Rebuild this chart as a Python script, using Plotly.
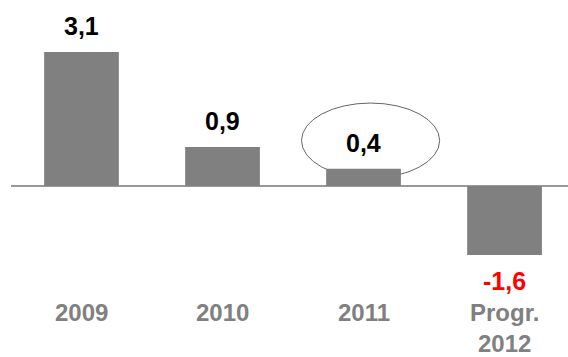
import plotly.graph_objects as go

# Annual change, last one is a projection
categories = ["2009", "2010", "2011", "Progr.<br>2012"]
values = [3.1, 0.9, 0.4, -1.6]
value_labels = ["3,1", "0,9", "0,4", "-1,6"]
label_colors = ["#000000", "#000000", "#000000", "#ff0000"]

FONT = "Liberation Sans, Arial, sans-serif"
BAR = "#808080"

fig = go.Figure(
    go.Bar(
        x=list(range(len(categories))),
        y=values,
        marker=dict(color=BAR, line=dict(width=0)),
        width=0.53,
        hoverinfo="skip",
    )
)

# Value labels above positive bars, below negative ones
for i, (val, txt, col) in enumerate(zip(values, value_labels, label_colors)):
    fig.add_annotation(
        x=i, y=val, text=f"<b>{txt}</b>", showarrow=False,
        yshift=26 if val >= 0 else -26,
        font=dict(family=FONT, size=25, color=col),
    )

# Category labels along the bottom
for i, cat in enumerate(categories):
    fig.add_annotation(
        x=i, y=-2.89, text=f"<b>{cat}</b>", showarrow=False,
        yanchor="top", yshift=14,
        font=dict(family=FONT, size=24, color="#808080"),
    )

# Highlight ring around the 2011 figure, drawn behind the bar
fig.add_shape(
    type="circle", layer="below",
    xref="x", yref="y",
    x0=1.56, x1=2.54, y0=0.185, y1=1.92,
    line=dict(color="#666666", width=1),
    fillcolor="white",
)

fig.update_layout(
    width=568, height=357,
    margin=dict(l=11, r=0, t=0, b=0),
    paper_bgcolor="white", plot_bgcolor="white",
    showlegend=False,
    xaxis=dict(range=[-0.5, 3.45], showticklabels=False, showgrid=False,
               zeroline=False, showline=False, ticks=""),
    yaxis=dict(range=[-3.958, 4.305], showticklabels=False, showgrid=False,
               zeroline=True, zerolinecolor="#999999", zerolinewidth=2,
               showline=False, ticks=""),
)

fig.write_html("out.html")
